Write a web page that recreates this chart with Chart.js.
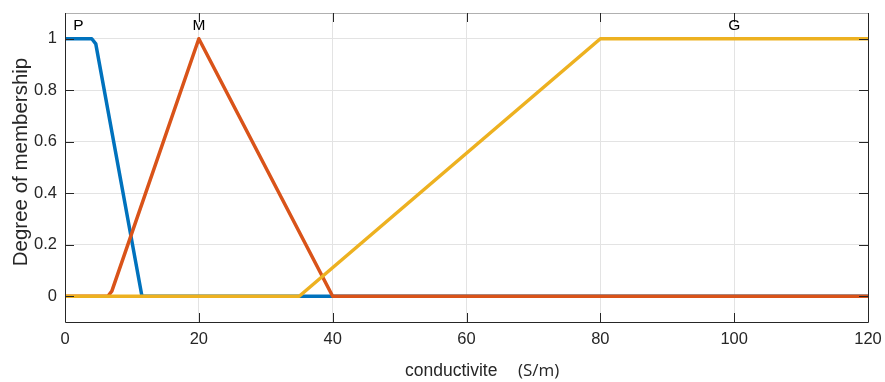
<!DOCTYPE html>
<html>
<head>
<meta charset="utf-8">
<script src="https://cdn.jsdelivr.net/npm/chart.js@4"></script>
<style>
  html, body { margin: 0; padding: 0; background: #fff; }
  #wrap { width: 885px; height: 382px; }
</style>
</head>
<body>
<div id="wrap"><canvas id="mfChart" width="885" height="382"></canvas></div>
<script>
// membership functions
const pX = [0, 4, 4.6, 11.5, 120];
const pY = [1, 1, 0.98, 0, 0];
const mX = [0, 6.4, 7, 20, 40, 120];
const mY = [0, 0, 0.02, 1, 0, 0];
const gX = [0, 35, 80, 120];
const gY = [0, 0, 1, 1];

const xTicks = [0, 20, 40, 60, 80, 100, 120];
const yTicks = [0, 0.2, 0.4, 0.6, 0.8, 1];
const mfNames = ['P', 'M', 'G'];
const mfLabelX = [2, 20, 100];

const colors = ['#0072BD', '#D95319', '#EDB120'];
const FONT = '"Liberation Sans", Arial, sans-serif';

function toPoints(xs, ys) {
    return xs.map(function (x, i) { return { x: x, y: ys[i] }; });
}

// MATLAB-like box, inward ticks, names and axis labels
const matlabAxes = {
    id: 'matlabAxes',
    afterDraw: function (chart) {
        const ctx = chart.ctx;
        const a = chart.chartArea;
        const xs = chart.scales.x, ys = chart.scales.y;
        ctx.save();
        ctx.lineWidth = 1;
        // top border gray
        ctx.strokeStyle = '#b0b0b0';
        ctx.beginPath();
        ctx.moveTo(a.left, a.top + 0.5);
        ctx.lineTo(a.right, a.top + 0.5);
        ctx.stroke();
        ctx.strokeStyle = '#262626';
        ctx.beginPath();
        ctx.moveTo(a.left + 0.5, a.top);
        ctx.lineTo(a.left + 0.5, a.bottom + 0.5);
        ctx.lineTo(a.right + 0.5, a.bottom + 0.5);
        ctx.lineTo(a.right + 0.5, a.top);
        ctx.stroke();
        // ticks inside
        xTicks.forEach(function (v) {
            const px = Math.round(xs.getPixelForValue(v)) + 0.5;
            ctx.beginPath();
            ctx.moveTo(px, a.bottom);
            ctx.lineTo(px, a.bottom - 9);
            ctx.moveTo(px, a.top);
            ctx.lineTo(px, a.top + 9);
            ctx.stroke();
        });
        yTicks.forEach(function (v) {
            const py = Math.round(ys.getPixelForValue(v)) + 0.5;
            ctx.beginPath();
            ctx.moveTo(a.left, py);
            ctx.lineTo(a.left + 9, py);
            ctx.moveTo(a.right, py);
            ctx.lineTo(a.right - 9, py);
            ctx.stroke();
        });
        // membership names
        ctx.fillStyle = '#000';
        ctx.font = '15.5px ' + FONT;
        ctx.textAlign = 'center';
        ctx.textBaseline = 'middle';
        mfNames.forEach(function (n, i) {
            ctx.fillText(n, xs.getPixelForValue(mfLabelX[i]), ys.getPixelForValue(1.05));
        });
        // y axis label
        ctx.fillStyle = '#262626';
        ctx.save();
        ctx.translate(21, 162);
        ctx.rotate(-Math.PI / 2);
        ctx.font = '20.5px ' + FONT;
        ctx.fillText('Degree of membership', 0, 0);
        ctx.restore();
        // x axis label
        ctx.textAlign = 'left';
        ctx.textBaseline = 'alphabetic';
        ctx.font = '17.5px ' + FONT;
        ctx.fillText('conductivite', 405, 376);
        ctx.font = '17px "Open Sans"';
        ctx.fillText('(S/m)', 518, 376);
        ctx.restore();
    }
};

const ctx = document.getElementById('mfChart').getContext('2d');
const mfChart = new Chart(ctx, {
    type: 'line',
    data: {
        datasets: [
            { data: toPoints(pX, pY), borderColor: colors[0], order: 2 },
            { data: toPoints(mX, mY), borderColor: colors[1], order: 1 },
            { data: toPoints(gX, gY), borderColor: colors[2], order: 0 }
        ]
    },
    options: {
        responsive: false,
        animation: false,
        layout: { padding: { left: 0, right: 17, top: 13, bottom: 0 } },
        elements: {
            line: { borderWidth: 3.5, tension: 0, borderCapStyle: 'butt', borderJoinStyle: 'round' },
            point: { radius: 0 }
        },
        plugins: {
            legend: { display: false },
            tooltip: { enabled: false }
        },
        scales: {
            x: {
                type: 'linear',
                min: 0,
                max: 120,
                afterBuildTicks: function (s) { s.ticks = xTicks.map(function (v) { return { value: v }; }); },
                afterFit: function (s) { s.height = 60; s.paddingLeft = 0; s.paddingRight = 0; },
                grid: { color: '#e3e3e3', drawTicks: false },
                border: { display: false },
                ticks: { color: '#262626', font: { family: FONT, size: 16.5 }, padding: 8, maxRotation: 0 }
            },
            y: {
                min: -0.1,
                max: 1.1,
                afterBuildTicks: function (s) { s.ticks = yTicks.map(function (v) { return { value: v }; }); },
                afterFit: function (s) { s.width = 65; s.paddingTop = 0; s.paddingBottom = 0; },
                grid: { color: '#e3e3e3', drawTicks: false },
                border: { display: false },
                ticks: {
                    color: '#262626',
                    font: { family: FONT, size: 16.5 },
                    padding: 8,
                    callback: function (v) { return String(Math.round(v * 10) / 10); }
                }
            }
        }
    },
    plugins: [matlabAxes]
});
</script>
</body>
</html>
